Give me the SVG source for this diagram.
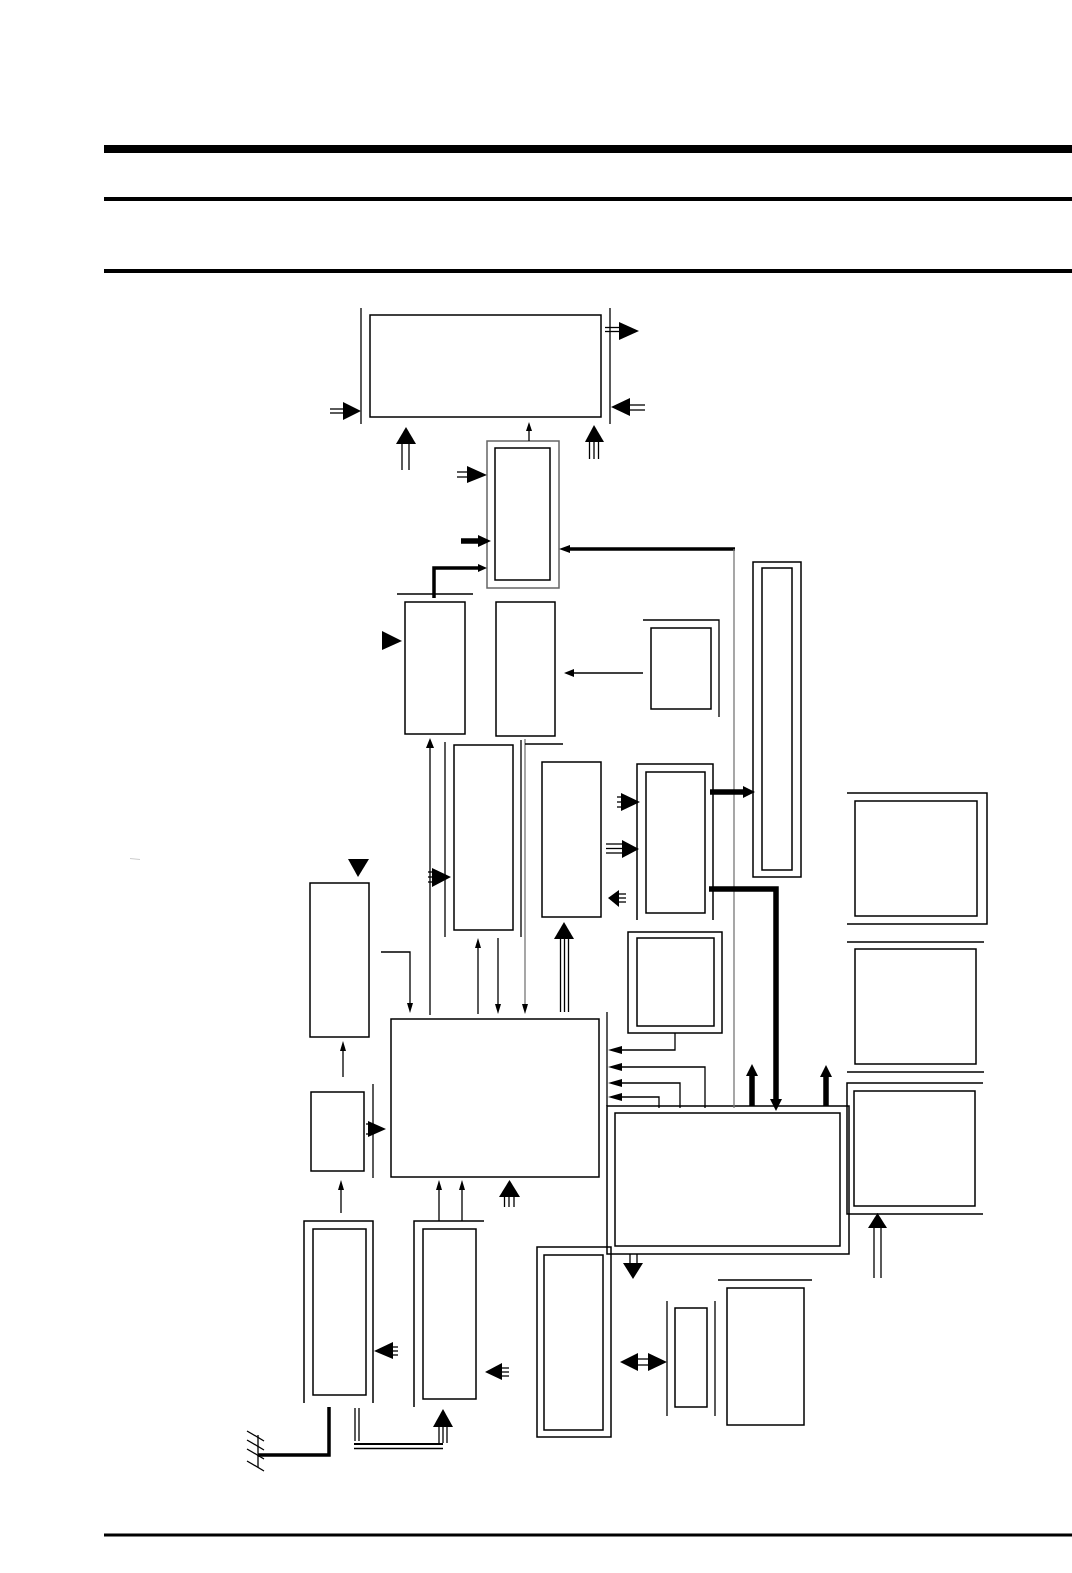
<svg xmlns="http://www.w3.org/2000/svg" width="1072" height="1573" viewBox="0 0 1072 1573">
<style>
.b{fill:none;stroke:#000;stroke-width:1.5}
.g{fill:none;stroke:#666;stroke-width:1.5}
.l{fill:none;stroke:#000;stroke-width:1.3}
.lg{fill:none;stroke:#777;stroke-width:1.3}
.t{fill:none;stroke:#000;stroke-width:3.5}
.tt{fill:none;stroke:#000;stroke-width:5.5}
.h{fill:#000;stroke:none}
</style>
<rect width="1072" height="1573" fill="#fff"/>
<g id="header">
<rect x="104" y="145" width="968" height="8" fill="#000"/>
<rect x="104" y="197" width="968" height="4" fill="#000"/>
<rect x="104" y="269" width="968" height="4" fill="#000"/>
<rect x="104" y="1533.5" width="968" height="3" fill="#000"/>
<line x1="130" y1="858.5" x2="140" y2="859.5" stroke="#ccc" stroke-width="1"/>
</g>
<g id="n1"><rect class="b" x="370" y="315" width="231" height="102"/><line class="l" x1="361" y1="308" x2="361" y2="424"/><line class="l" x1="610" y1="308" x2="610" y2="424"/></g>
<g id="n2"><rect class="g" x="487" y="441" width="72" height="147"/><rect class="b" x="495" y="448" width="55" height="132"/></g>
<g id="n3"><rect class="b" x="405" y="602" width="60" height="132"/><line class="l" x1="397" y1="594" x2="473" y2="594"/></g>
<g id="n4"><rect class="b" x="496" y="602" width="59" height="134"/></g>
<g id="n5"><rect class="b" x="651" y="628" width="60" height="81"/><polyline class="l" points="643,620 719,620 719,717"/></g>
<g id="n6"><rect class="b" x="753" y="562" width="48" height="315"/><rect class="b" x="762" y="568" width="30" height="302"/></g>
<g id="n7"><rect class="b" x="454" y="745" width="59" height="185"/><line class="l" x1="445" y1="742" x2="445" y2="937"/><line class="l" x1="521" y1="740" x2="521" y2="937"/></g>
<g id="n8"><rect class="b" x="542" y="762" width="59" height="155"/></g>
<g id="n9"><polyline class="b" points="637,920 637,764 713,764 713,920"/><rect class="b" x="646" y="772" width="59" height="141"/></g>
<g id="n10"><rect class="b" x="628" y="932" width="94" height="101"/><rect class="b" x="637" y="938" width="77" height="88"/></g>
<g id="n11"><rect class="b" x="310" y="883" width="59" height="154"/></g>
<g id="n12"><rect class="b" x="311" y="1092" width="53" height="79"/><line class="l" x1="373" y1="1084" x2="373" y2="1178"/></g>
<g id="n13"><rect class="b" x="391" y="1019" width="208" height="158"/></g>
<g id="n14"><rect class="b" x="607" y="1106" width="242" height="148"/><rect class="b" x="615" y="1113" width="225" height="133"/></g>
<g id="n15"><polyline class="b" points="847,793 987,793 987,924 847,924"/><rect class="b" x="855" y="801" width="122" height="115"/></g>
<g id="n16"><line class="b" x1="847" y1="942" x2="984" y2="942"/><rect class="b" x="855" y="949" width="121" height="115"/><line class="b" x1="847" y1="1072" x2="984" y2="1072"/></g>
<g id="n17"><polyline class="b" points="983,1083 847,1083 847,1214 983,1214"/><rect class="b" x="854" y="1091" width="121" height="115"/></g>
<g id="n18"><polyline class="b" points="304,1403 304,1221 373,1221 373,1403"/><rect class="b" x="313" y="1229" width="53" height="166"/></g>
<g id="n19"><polyline class="b" points="414,1407 414,1221 484,1221"/><rect class="b" x="423" y="1229" width="53" height="170"/></g>
<g id="n20"><rect class="b" x="537" y="1247" width="74" height="190"/><rect class="b" x="544" y="1255" width="59" height="175"/></g>
<g id="n21"><rect class="b" x="675" y="1308" width="32" height="99"/><line class="l" x1="667" y1="1301" x2="667" y2="1416"/><line class="l" x1="715" y1="1301" x2="715" y2="1416"/></g>
<g id="n22"><rect class="b" x="727" y="1288" width="77" height="137"/><line class="l" x1="718" y1="1280" x2="812" y2="1280"/></g>
<g id="antenna">
<line class="l" x1="258" y1="1435" x2="258" y2="1467"/>
<line class="l" x1="247" y1="1431" x2="264" y2="1441"/>
<line class="l" x1="247" y1="1440" x2="264" y2="1450"/>
<line class="l" x1="247" y1="1449" x2="264" y2="1459"/>
<line class="l" x1="247" y1="1461" x2="264" y2="1471"/>
</g>
<g id="connectors">
<!-- n1 arrows -->
<line class="l" x1="330" y1="409" x2="346" y2="409"/><line class="l" x1="330" y1="413" x2="346" y2="413"/><polygon class="h" points="343,402 361,411 343,420"/>
<line class="l" x1="605" y1="327.5" x2="622" y2="327.5"/><line class="l" x1="605" y1="331.5" x2="622" y2="331.5"/><polygon class="h" points="619,322 639,331 619,340"/>
<line class="l" x1="627" y1="405" x2="645" y2="405"/><line class="l" x1="627" y1="410" x2="645" y2="410"/><polygon class="h" points="630,398 611,407 630,416"/>
<line class="l" x1="402" y1="443" x2="402" y2="470"/><line class="l" x1="409" y1="443" x2="409" y2="470"/><polygon class="h" points="396,444 406,427 416,444"/>
<line class="l" x1="589.5" y1="441" x2="589.5" y2="459"/><line class="l" x1="594" y1="441" x2="594" y2="459"/><line class="l" x1="598.5" y1="441" x2="598.5" y2="459"/><polygon class="h" points="585,442 594,425 604,442"/>
<line class="l" x1="529" y1="441" x2="529" y2="428"/><polygon class="h" points="526,431 529,422 532,431"/>
<!-- n2 arrows -->
<line class="l" x1="457" y1="472" x2="470" y2="472"/><line class="l" x1="457" y1="477" x2="470" y2="477"/><polygon class="h" points="467,466 487,475 467,483"/>
<line class="tt" x1="461" y1="541" x2="480" y2="541"/><polygon class="h" points="478,535 491,541 478,547"/>
<polyline class="t" points="434,598 434,568 480,568"/><polygon class="h" points="478,564 487,568 478,572"/>
<line class="t" x1="735" y1="549" x2="567" y2="549"/><polygon class="h" points="570,545 559,549 570,553"/>
<line class="lg" x1="734" y1="549" x2="734" y2="1108"/>
<!-- n3/n4 -->
<polygon class="h" points="382,631 402,641 382,650"/>
<line class="l" x1="643" y1="673" x2="570" y2="673"/><polygon class="h" points="574,669 564,673 574,677"/>
<line class="l" x1="430" y1="1015" x2="430" y2="746"/><polygon class="h" points="426,748 430,738 434,748"/>
<!-- n7 -->
<polygon class="h" points="432,868 451,877 432,887"/><line class="l" x1="428" y1="872" x2="435" y2="872"/><line class="l" x1="428" y1="877" x2="435" y2="877"/><line class="l" x1="428" y1="882" x2="435" y2="882"/>
<line class="l" x1="478" y1="1014" x2="478" y2="946"/><polygon class="h" points="475,948 478,938 481,948"/>
<line class="l" x1="498" y1="938" x2="498" y2="1006"/><polygon class="h" points="495,1004 498,1014 501,1004"/>
<line class="lg" x1="525" y1="739" x2="525" y2="1006"/><polygon class="h" points="522,1004 525,1014 528,1004"/>
<line class="l" x1="525" y1="744" x2="563" y2="744"/>
<!-- n8 -->
<line class="l" x1="560.5" y1="938" x2="560.5" y2="1012"/><line class="l" x1="564.5" y1="938" x2="564.5" y2="1012"/><line class="l" x1="568.5" y1="938" x2="568.5" y2="1012"/><polygon class="h" points="554,939 564,922 574,939"/>
<polygon class="h" points="621,793 640,802 621,811"/><line class="l" x1="617" y1="797" x2="623" y2="797"/><line class="l" x1="617" y1="802" x2="623" y2="802"/><line class="l" x1="617" y1="807" x2="623" y2="807"/>
<line class="l" x1="606" y1="844" x2="624" y2="844"/><line class="l" x1="606" y1="848.5" x2="624" y2="848.5"/><line class="l" x1="606" y1="853" x2="624" y2="853"/><polygon class="h" points="622,840 639,849 622,858"/>
<polygon class="h" points="619,890 608,898 619,907"/><line class="l" x1="617" y1="894" x2="626" y2="894"/><line class="l" x1="617" y1="898" x2="626" y2="898"/><line class="l" x1="617" y1="902" x2="626" y2="902"/>
<!-- n11 -->
<polygon class="h" points="348,859 369,859 358,877"/>
<polyline class="l" points="381,952 410,952 410,1005"/><polygon class="h" points="407,1003 410,1013 413,1003"/>
<!-- n9 outputs -->
<line class="tt" x1="710" y1="792" x2="745" y2="792"/><polygon class="h" points="743,786 755,792 743,798"/>
<polyline class="tt" points="709,889 776,889 776,1101"/><polygon class="h" points="770,1099 776,1111 782,1099"/>
<!-- into x=607 -->
<line class="l" x1="607" y1="1012" x2="607" y2="1106"/>
<polyline class="l" points="675,1033 675,1050 616,1050"/><polygon class="h" points="622,1046 608,1050 622,1054"/>
<polyline class="l" points="705,1108 705,1067 616,1067"/><polygon class="h" points="622,1063 608,1067 622,1071"/>
<polyline class="l" points="680,1108 680,1083 616,1083"/><polygon class="h" points="622,1079 608,1083 622,1087"/>
<polyline class="l" points="659,1108 659,1097 616,1097"/><polygon class="h" points="622,1093 608,1097 622,1101"/>
<line class="tt" x1="752" y1="1106" x2="752" y2="1074"/><polygon class="h" points="746,1076 752,1064 758,1076"/>
<line class="tt" x1="826" y1="1106" x2="826" y2="1074"/><polygon class="h" points="820,1077 826,1065 832,1077"/>
<!-- box C -->
<line class="l" x1="874" y1="1226" x2="874" y2="1278"/><line class="l" x1="881" y1="1226" x2="881" y2="1278"/><polygon class="h" points="868,1228 877.5,1213 887,1228"/>
<!-- n14 down -->
<line class="l" x1="630" y1="1254" x2="630" y2="1265"/><line class="l" x1="637" y1="1254" x2="637" y2="1265"/><polygon class="h" points="623,1263 633,1279 643,1263"/>
<!-- bidirectional -->
<line class="l" x1="636" y1="1359" x2="650" y2="1359"/><line class="l" x1="636" y1="1365" x2="650" y2="1365"/>
<polygon class="h" points="620,1362 638,1353 638,1371"/><polygon class="h" points="667,1362 648,1353 648,1371"/>
<!-- left column -->
<line class="l" x1="343" y1="1077" x2="343" y2="1050"/><polygon class="h" points="340,1051 343,1041 346,1051"/>
<polygon class="h" points="368,1121 386,1129 368,1137"/><line class="l" x1="366" y1="1124" x2="371" y2="1124"/><line class="l" x1="366" y1="1134" x2="371" y2="1134"/>
<line class="l" x1="341" y1="1213" x2="341" y2="1188"/><polygon class="h" points="338,1190 341,1180 344,1190"/>
<line class="l" x1="439" y1="1221" x2="439" y2="1188"/><polygon class="h" points="436,1190 439,1180 442,1190"/>
<line class="l" x1="462" y1="1221" x2="462" y2="1188"/><polygon class="h" points="459,1190 462,1180 465,1190"/>
<line class="l" x1="504.5" y1="1196" x2="504.5" y2="1207"/><line class="l" x1="509" y1="1196" x2="509" y2="1207"/><line class="l" x1="514" y1="1196" x2="514" y2="1207"/><polygon class="h" points="499,1197 509.5,1180 520,1197"/>
<polygon class="h" points="393,1342 374,1351 393,1359"/><line class="l" x1="391" y1="1347" x2="398" y2="1347"/><line class="l" x1="391" y1="1351" x2="398" y2="1351"/><line class="l" x1="391" y1="1355" x2="398" y2="1355"/>
<polygon class="h" points="502,1363 485,1372 502,1380"/><line class="l" x1="500" y1="1368" x2="509" y2="1368"/><line class="l" x1="500" y1="1372" x2="509" y2="1372"/><line class="l" x1="500" y1="1376" x2="509" y2="1376"/>
<line class="l" x1="439" y1="1426" x2="439" y2="1443"/><line class="l" x1="443" y1="1426" x2="443" y2="1443"/><line class="l" x1="447" y1="1426" x2="447" y2="1443"/><polygon class="h" points="433,1427 443,1409 453,1427"/>
<line class="l" x1="355" y1="1408" x2="355" y2="1441"/><line class="l" x1="359" y1="1408" x2="359" y2="1441"/>
<line x1="354" y1="1444" x2="443" y2="1444" stroke="#000" stroke-width="2.2"/><line class="l" x1="354" y1="1448.5" x2="443" y2="1448.5"/>
<polyline class="t" points="329,1407 329,1455 258,1455"/>
</g>
</svg>
